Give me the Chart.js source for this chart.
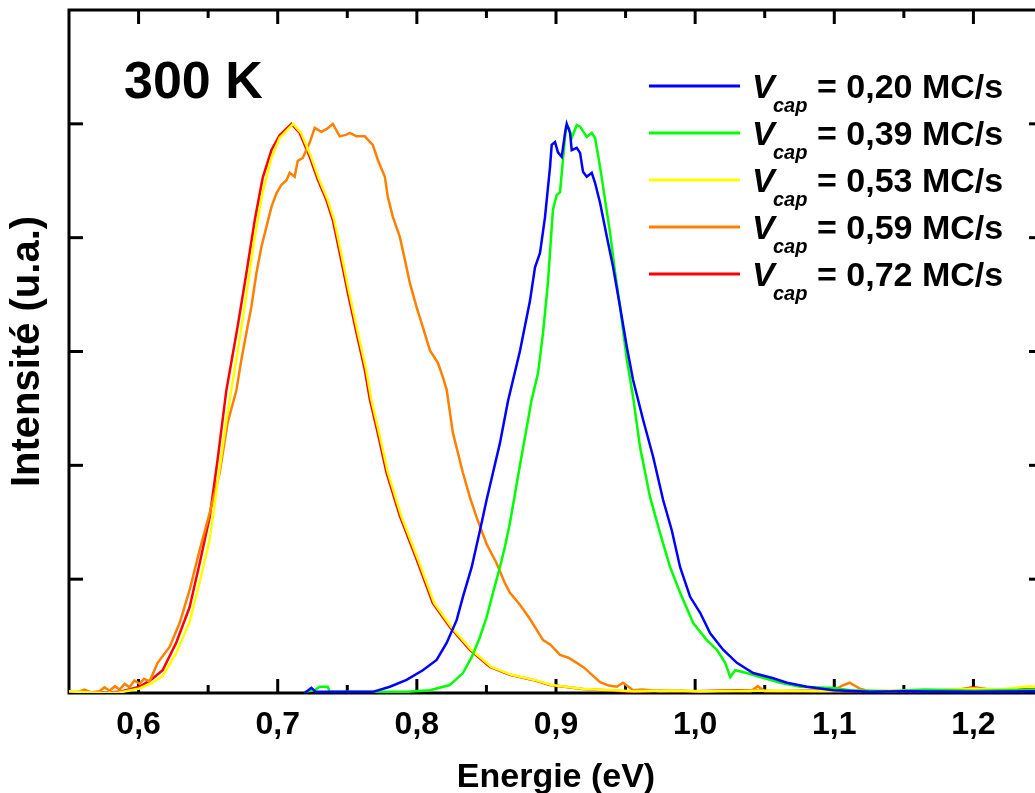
<!DOCTYPE html>
<html>
<head>
<meta charset="utf-8">
<script src="https://cdn.jsdelivr.net/npm/chart.js@4.4.1/dist/chart.umd.min.js"></script>
<style>
  html, body { margin: 0; padding: 0; overflow: hidden; background: #fff; }
  #wrap { position: absolute; left: 0; top: 0; width: 1050px; height: 793px; }
</style>
</head>
<body>
<div id="wrap"><canvas id="chart" width="1050" height="793"></canvas></div>
<script>
// valeurs (intensité normalisée)
const speeds = ['0,20', '0,39', '0,53', '0,59', '0,72'];
const tempLabel = '300 K';
const xTicks = [0.6, 0.7, 0.8, 0.9, 1.0, 1.1, 1.2];
const xMinorTicks = [0.65, 0.75, 0.85, 0.95, 1.05, 1.15];
const yTicks = [0.2, 0.4, 0.6, 0.8, 1.0];

const energyBlue = [0.7194, 0.7242, 0.7273, 0.7324, 0.7683, 0.7806, 0.7926, 0.8043, 0.8142, 0.8214, 0.8286, 0.8331, 0.8394, 0.8453, 0.8501, 0.8547, 0.8597, 0.8655, 0.8741, 0.8813, 0.8849, 0.8885, 0.8921, 0.8957, 0.8969, 0.8993, 0.9014, 0.9041, 0.9065, 0.9077, 0.9101, 0.9113, 0.9149, 0.9173, 0.9194, 0.9221, 0.9257, 0.9281, 0.9317, 0.9365, 0.9410, 0.9460, 0.9509, 0.9554, 0.9626, 0.9698, 0.9770, 0.9832, 0.9892, 0.9964, 1.0036, 1.0108, 1.0201, 1.0300, 1.0417, 1.0561, 1.0660, 1.0804, 1.0993, 1.126, 1.15, 1.20, 1.25];
const intensityBlue = [0.000, 0.009, 0.002, 0.002, 0.002, 0.011, 0.023, 0.040, 0.058, 0.088, 0.128, 0.169, 0.221, 0.285, 0.339, 0.387, 0.439, 0.513, 0.601, 0.689, 0.748, 0.773, 0.836, 0.924, 0.963, 0.968, 0.950, 0.942, 0.984, 1.000, 0.984, 0.954, 0.958, 0.949, 0.916, 0.907, 0.914, 0.896, 0.861, 0.802, 0.749, 0.679, 0.608, 0.550, 0.480, 0.415, 0.339, 0.286, 0.221, 0.169, 0.141, 0.105, 0.076, 0.053, 0.035, 0.026, 0.018, 0.011, 0.005, 0.002, 0.003, 0.002, 0.003];

const energyGreen = [0.7194, 0.7266, 0.7302, 0.7360, 0.7374, 0.7926, 0.8094, 0.8237, 0.8331, 0.8394, 0.8453, 0.8501, 0.8547, 0.8597, 0.8633, 0.8669, 0.8741, 0.8825, 0.8871, 0.8907, 0.8942, 0.8978, 0.9005, 0.9029, 0.9050, 0.9072, 0.9093, 0.9113, 0.9149, 0.9173, 0.9221, 0.9257, 0.9281, 0.9317, 0.9353, 0.9389, 0.9425, 0.9460, 0.9509, 0.9554, 0.9604, 0.9676, 0.9748, 0.9820, 0.9892, 0.9986, 1.0084, 1.0156, 1.0216, 1.0252, 1.0288, 1.0372, 1.0468, 1.0612, 1.0756, 1.0993, 1.1115, 1.14, 1.165, 1.20, 1.25];
const intensityGreen = [0.002, 0.005, 0.011, 0.011, 0.002, 0.002, 0.005, 0.014, 0.035, 0.063, 0.098, 0.133, 0.176, 0.221, 0.257, 0.299, 0.400, 0.515, 0.562, 0.633, 0.721, 0.849, 0.875, 0.880, 0.937, 0.995, 0.993, 0.975, 0.998, 0.995, 0.977, 0.984, 0.975, 0.924, 0.866, 0.808, 0.738, 0.679, 0.586, 0.520, 0.432, 0.344, 0.281, 0.221, 0.176, 0.123, 0.093, 0.076, 0.053, 0.028, 0.040, 0.035, 0.028, 0.018, 0.011, 0.009, 0.005, 0.003, 0.006, 0.004, 0.006];

const energyYellow = [0.55, 0.572, 0.5863, 0.6007, 0.610, 0.6173, 0.627, 0.6367, 0.6439, 0.6511, 0.6568, 0.6631, 0.6712, 0.6775, 0.6835, 0.6892, 0.6955, 0.7014, 0.7110, 0.7168, 0.7240, 0.7298, 0.7360, 0.7406, 0.7456, 0.7514, 0.7576, 0.7636, 0.7672, 0.7729, 0.7792, 0.7888, 0.8008, 0.8125, 0.8247, 0.8391, 0.8535, 0.8679, 0.8845, 0.8967, 0.9204, 0.9564, 0.98, 1.01, 1.05, 1.09, 1.13, 1.17, 1.20, 1.22, 1.24, 1.25];
const intensityYellow = [0.003, 0.000, 0.001, 0.008, 0.018, 0.030, 0.070, 0.125, 0.195, 0.270, 0.370, 0.480, 0.600, 0.700, 0.800, 0.880, 0.940, 0.975, 1.000, 0.984, 0.942, 0.902, 0.866, 0.831, 0.773, 0.703, 0.633, 0.568, 0.516, 0.457, 0.387, 0.311, 0.235, 0.158, 0.116, 0.076, 0.046, 0.032, 0.023, 0.014, 0.007, 0.003, 0.004, 0.003, 0.004, 0.003, 0.004, 0.005, 0.008, 0.006, 0.012, 0.010];

const energyOrange = [0.5504, 0.555, 0.561, 0.566, 0.5719, 0.5755, 0.5791, 0.583, 0.5863, 0.590, 0.5935, 0.597, 0.6007, 0.604, 0.6079, 0.6137, 0.6223, 0.6295, 0.6367, 0.6439, 0.6511, 0.6583, 0.6640, 0.6703, 0.6739, 0.6775, 0.6811, 0.6847, 0.6883, 0.6919, 0.6955, 0.6991, 0.7027, 0.7063, 0.7086, 0.7122, 0.7144, 0.7180, 0.7230, 0.7266, 0.7314, 0.7353, 0.7396, 0.7446, 0.7494, 0.7518, 0.7566, 0.7626, 0.7683, 0.7719, 0.7770, 0.7791, 0.7827, 0.7878, 0.7914, 0.7950, 0.7998, 0.8043, 0.8094, 0.8151, 0.8187, 0.8214, 0.8259, 0.8331, 0.8381, 0.8429, 0.8501, 0.8573, 0.8633, 0.8669, 0.8741, 0.8813, 0.8907, 0.8960, 0.9029, 0.9090, 0.9149, 0.9200, 0.9245, 0.9317, 0.9380, 0.9437, 0.9482, 0.9554, 0.962, 0.975, 0.990, 1.003, 1.020, 1.040, 1.045, 1.050, 1.080, 1.100, 1.105, 1.111, 1.118, 1.125, 1.15, 1.18, 1.21, 1.25];
const intensityOrange = [0.003, 0.000, 0.006, 0.001, 0.003, 0.010, 0.004, 0.012, 0.006, 0.016, 0.010, 0.022, 0.016, 0.025, 0.020, 0.053, 0.081, 0.123, 0.181, 0.251, 0.316, 0.387, 0.475, 0.532, 0.586, 0.633, 0.679, 0.738, 0.784, 0.819, 0.854, 0.878, 0.893, 0.901, 0.914, 0.907, 0.935, 0.940, 0.967, 0.993, 0.986, 0.991, 1.000, 0.978, 0.981, 0.984, 0.978, 0.978, 0.963, 0.937, 0.907, 0.872, 0.837, 0.801, 0.761, 0.720, 0.678, 0.643, 0.602, 0.580, 0.555, 0.533, 0.457, 0.387, 0.344, 0.309, 0.262, 0.228, 0.193, 0.176, 0.155, 0.130, 0.093, 0.085, 0.067, 0.062, 0.053, 0.045, 0.035, 0.019, 0.013, 0.011, 0.018, 0.005, 0.006, 0.003, 0.004, 0.002, 0.004, 0.003, 0.012, 0.003, 0.004, 0.005, 0.012, 0.018, 0.008, 0.003, 0.003, 0.004, 0.003, 0.004];

const energyRed = [0.55, 0.572, 0.5863, 0.6007, 0.610, 0.6173, 0.627, 0.6367, 0.6439, 0.6511, 0.6568, 0.6631, 0.6712, 0.6775, 0.6835, 0.6892, 0.6955, 0.7014, 0.7099, 0.7158, 0.7230, 0.7288, 0.7350, 0.7396, 0.7446, 0.7504, 0.7566, 0.7626, 0.7662, 0.7719, 0.7782, 0.7878, 0.7998, 0.8115, 0.8237, 0.8381, 0.8525, 0.8669, 0.8835, 0.8957, 0.9194, 0.9554, 0.975, 1.00, 1.03, 1.06, 1.10, 1.13, 1.16, 1.19, 1.20, 1.215, 1.235, 1.25];
const intensityRed = [0.002, 0.000, 0.002, 0.011, 0.025, 0.040, 0.088, 0.151, 0.228, 0.309, 0.410, 0.532, 0.644, 0.738, 0.831, 0.905, 0.954, 0.980, 1.000, 0.984, 0.942, 0.902, 0.866, 0.831, 0.773, 0.703, 0.633, 0.568, 0.516, 0.457, 0.387, 0.311, 0.235, 0.158, 0.116, 0.076, 0.046, 0.032, 0.023, 0.014, 0.007, 0.002, 0.004, 0.003, 0.005, 0.003, 0.004, 0.002, 0.003, 0.006, 0.010, 0.005, 0.007, 0.006];

const energies = [energyBlue, energyGreen, energyYellow, energyOrange, energyRed];
const intensities = [intensityBlue, intensityGreen, intensityYellow, intensityOrange, intensityRed];
const colors = ['#0000ff', '#00ff00', '#ffff00', '#ff8000', '#ff0000'];

const FONT = '"Liberation Sans", Arial, sans-serif';

const datasets = speeds.map((s, i) => ({
  label: 'Vcap = ' + s + ' MC/s',
  data: energies[i].map((e, k) => ({ x: e, y: intensities[i][k] })),
  borderColor: colors[i],
  borderWidth: 2.5,
  pointRadius: 0,
  tension: 0,
  fill: false
}));

// cadre, graduations vers l'intérieur, légende et étiquette de température
const framePlugin = {
  id: 'frame',
  beforeDatasetsDraw(chart) {
    const { ctx, chartArea: a, scales: { x, y } } = chart;
    ctx.save();
    ctx.strokeStyle = '#000';
    ctx.lineWidth = 3;
    ctx.strokeRect(a.left, a.top, a.right - a.left, a.bottom - a.top);
    const tick = (x1, y1, x2, y2) => { ctx.beginPath(); ctx.moveTo(x1, y1); ctx.lineTo(x2, y2); ctx.stroke(); };
    xTicks.forEach(v => {
      const px = x.getPixelForValue(v);
      tick(px, a.bottom, px, a.bottom - 14);
      tick(px, a.top, px, a.top + 14);
    });
    xMinorTicks.forEach(v => {
      const px = x.getPixelForValue(v);
      tick(px, a.bottom, px, a.bottom - 8);
      tick(px, a.top, px, a.top + 8);
    });
    yTicks.forEach(v => {
      const py = y.getPixelForValue(v);
      tick(a.left, py, a.left + 14, py);
      tick(a.right, py, a.right - 14, py);
    });
    ctx.restore();
  },
  afterDraw(chart) {
    const { ctx } = chart;
    ctx.save();
    ctx.fillStyle = '#000';
    ctx.textBaseline = 'alphabetic';
    ctx.font = 'bold 52px ' + FONT;
    ctx.fillText(tempLabel, 124, 98);
    chart.data.datasets.forEach((ds, i) => {
      const yy = 86 + 47 * i;
      ctx.strokeStyle = ds.borderColor;
      ctx.lineWidth = 3;
      ctx.beginPath();
      ctx.moveTo(649, yy);
      ctx.lineTo(740, yy);
      ctx.stroke();
      ctx.font = 'italic bold 34px ' + FONT;
      ctx.fillText('V', 752, yy + 12);
      ctx.font = 'italic bold 20px ' + FONT;
      ctx.fillText('cap', 773, yy + 26);
      ctx.font = 'bold 34px ' + FONT;
      ctx.fillText('= ' + speeds[i] + ' MC/s', 817, yy + 12);
    });
    ctx.restore();
  }
};

new Chart(document.getElementById('chart'), {
  type: 'line',
  data: { datasets },
  options: {
    responsive: false,
    animation: false,
    devicePixelRatio: 1,
    layout: { padding: { top: 10, right: 7, left: 0, bottom: 0 } },
    plugins: { legend: { display: false }, tooltip: { enabled: false } },
    scales: {
      x: {
        type: 'linear',
        min: 0.55,
        max: 1.25,
        grid: { display: false, drawTicks: false },
        border: { display: false },
        afterBuildTicks: s => { s.ticks = xTicks.map(v => ({ value: v })); },
        afterFit: s => { s.height = 100; },
        ticks: {
          padding: 13,
          color: '#000',
          font: { family: FONT, size: 32, weight: 'bold' },
          callback: v => v.toFixed(1).replace('.', ',')
        },
        title: {
          display: true,
          text: 'Energie (eV)',
          color: '#000',
          font: { family: FONT, size: 34, weight: 'bold' },
          padding: { top: 0, bottom: -5 }
        }
      },
      y: {
        type: 'linear',
        min: 0,
        max: 1.2,
        grid: { display: false, drawTicks: false },
        border: { display: false },
        afterBuildTicks: s => { s.ticks = [0].concat(yTicks, [1.2]).map(v => ({ value: v })); },
        afterFit: s => { s.width = 69; },
        ticks: { display: false },
        title: {
          display: true,
          text: 'Intensité (u.a.)',
          color: '#000',
          font: { family: FONT, size: 40, weight: 'bold' },
          padding: { top: 4, bottom: 0 }
        }
      }
    }
  },
  plugins: [framePlugin]
});
</script>
</body>
</html>
